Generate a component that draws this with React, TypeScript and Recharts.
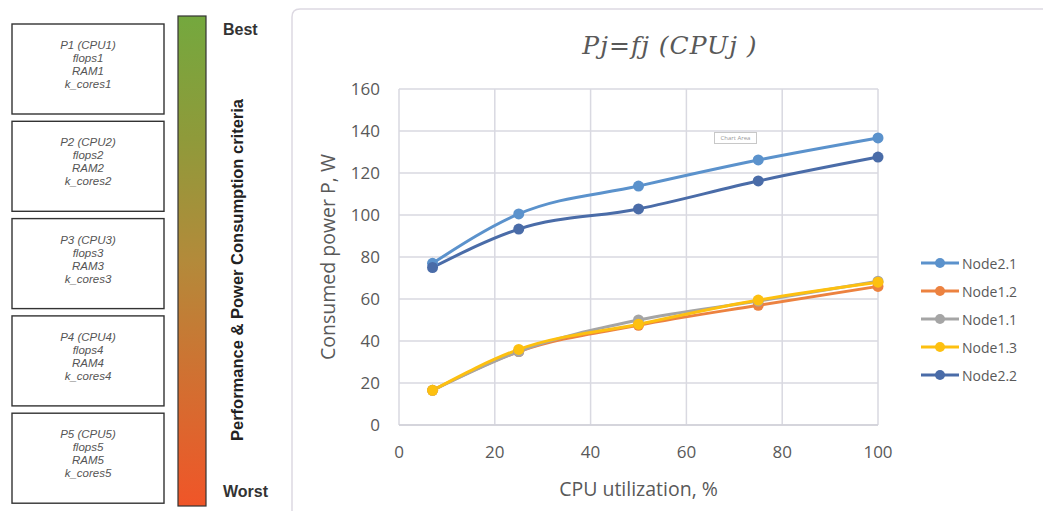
import {
  CartesianGrid,
  Line,
  LineChart,
  XAxis,
  YAxis,
} from "recharts";

// CPU utilization, % (x) and consumed power, W (y) per node
const cpuUtil = [7, 25, 50, 75, 100];
const node21 = [77, 100.5, 113.8, 126.2, 136.7];
const node12 = [16.5, 35, 47.5, 57, 66];
const node11 = [16.5, 35, 50, 59, 68.5];
const node13 = [16.5, 36, 48, 59.5, 68];
const node22 = [75, 93.3, 102.9, 116.2, 127.6];

const xTicks = [0, 20, 40, 60, 80, 100];
const yTicks = [0, 20, 40, 60, 80, 100, 120, 140, 160];

const seriesNames = ["Node2.1", "Node1.2", "Node1.1", "Node1.3", "Node2.2"];
const seriesValues = [node21, node12, node11, node13, node22];
const seriesColors = ["#5b92cc", "#ec8240", "#a5a5a5", "#fdc010", "#4a6ca8"];

const processors = [
  ["P1 (CPU1)", "flops1", "RAM1", "k_cores1"],
  ["P2 (CPU2)", "flops2", "RAM2", "k_cores2"],
  ["P3 (CPU3)", "flops3", "RAM3", "k_cores3"],
  ["P4 (CPU4)", "flops4", "RAM4", "k_cores4"],
  ["P5 (CPU5)", "flops5", "RAM5", "k_cores5"],
];

const chartData = cpuUtil.map((cpu, i) => {
  const row: Record<string, number> = { cpu };
  seriesNames.forEach((name, s) => {
    row[name] = seriesValues[s][i];
  });
  return row;
});

const textGray = "#595959";
const calibriLike = "'Open Sans', 'Noto Sans', sans-serif";

function LeftPanel() {
  return (
    <svg
      width={300}
      height={511}
      style={{ position: "absolute", left: 0, top: 0 }}
    >
      <defs>
        <linearGradient id="crit" x1="0" y1="0" x2="0" y2="1">
          <stop offset="0%" stopColor="#74a83e" />
          <stop offset="25%" stopColor="#8f9a3a" />
          <stop offset="50%" stopColor="#b38a3a" />
          <stop offset="75%" stopColor="#d26f31" />
          <stop offset="100%" stopColor="#f05528" />
        </linearGradient>
      </defs>
      {processors.map((lines, i) => {
        const top = 24 + i * 97.3;
        return (
          <g key={lines[0]}>
            <rect
              x={12}
              y={top}
              width={152}
              height={90}
              fill="#fff"
              stroke="#333"
              strokeWidth={1.4}
            />
            {lines.map((t, j) => (
              <text
                key={t}
                x={88}
                y={top + 25 + j * 13}
                textAnchor="middle"
                fontFamily="'Liberation Sans', Arial, sans-serif"
                fontStyle="italic"
                fontSize={11.5}
                fill="#555"
              >
                {t}
              </text>
            ))}
          </g>
        );
      })}
      <rect
        x={178}
        y={16}
        width={28}
        height={490}
        fill="url(#crit)"
        stroke="#333"
        strokeWidth={1.2}
      />
      <text
        x={223}
        y={35}
        fontFamily="'Liberation Sans', Arial, sans-serif"
        fontWeight="bold"
        fontSize={16}
        fill="#333"
      >
        Best
      </text>
      <text
        x={223}
        y={497}
        fontFamily="'Liberation Sans', Arial, sans-serif"
        fontWeight="bold"
        fontSize={16}
        fill="#333"
      >
        Worst
      </text>
      <text
        x={243}
        y={270}
        transform="rotate(-90, 243, 270)"
        textAnchor="middle"
        fontFamily="'Liberation Sans', Arial, sans-serif"
        fontWeight="bold"
        fontSize={16.5}
        fill="#222"
      >
        Performance &amp; Power Consumption criteria
      </text>
      <path
        d="M292,511 V17 Q292,9 300,9 H300"
        fill="none"
        stroke="#ddd9e2"
        strokeWidth={1.5}
      />
    </svg>
  );
}

function NodeLegend() {
  return (
    <div style={{ position: "absolute", left: 921, top: 249 }}>
      {seriesNames.map((name, s) => (
        <div
          key={name}
          style={{ display: "flex", alignItems: "center", height: 28 }}
        >
          <svg width={40} height={12}>
            <line
              x1={0}
              y1={6}
              x2={38}
              y2={6}
              stroke={seriesColors[s]}
              strokeWidth={3}
            />
            <circle cx={19} cy={6} r={5} fill={seriesColors[s]} />
          </svg>
          <span
            style={{
              fontFamily: calibriLike,
              fontSize: 14,
              color: textGray,
              marginLeft: 1,
            }}
          >
            {name}
          </span>
        </div>
      ))}
    </div>
  );
}

export default function App() {
  return (
    <div
      style={{
        position: "fixed",
        left: 0,
        top: 0,
        width: 1043,
        height: 511,
        background: "#fff",
        overflow: "hidden",
      }}
    >
      <svg
        width={1043}
        height={511}
        style={{ position: "absolute", left: 0, top: 0 }}
      >
        <line x1={300} y1={9} x2={1043} y2={9} stroke="#ddd9e2" strokeWidth={1.5} />
        <text
          x={670}
          y={54}
          textAnchor="middle"
          fontFamily="'DejaVu Serif', serif"
          fontStyle="italic"
          fontSize={25}
          letterSpacing={1}
          fill={textGray}
        >
          Pj=fj (CPUj )
        </text>
      </svg>
      <LeftPanel />
      <div style={{ position: "absolute", left: 0, top: 0 }}>
        <LineChart
          width={1043}
          height={511}
          data={chartData}
          margin={{ top: 89, right: 165, bottom: 16, left: 339 }}
        >
          <CartesianGrid stroke="#d9d9e1" strokeWidth={1.5} />
          <XAxis
            type="number"
            dataKey="cpu"
            domain={[0, 100]}
            ticks={xTicks}
            height={70}
            tickLine={false}
            tickSize={6}
            tickMargin={15}
            axisLine={{ stroke: "#d0d0d8", strokeWidth: 1.5 }}
            tick={{ fill: textGray, fontSize: 17, fontFamily: calibriLike }}
            label={{
              content: ({ viewBox }: any) => (
                <text
                  x={viewBox.x + viewBox.width / 2}
                  y={496}
                  textAnchor="middle"
                  fontFamily={calibriLike}
                  fontSize={19.5}
                  fill={textGray}
                >
                  CPU utilization, %
                </text>
              ),
            }}
          />
          <YAxis
            type="number"
            domain={[0, 160]}
            ticks={yTicks}
            width={60}
            tickLine={false}
            axisLine={false}
            tickSize={6}
            tickMargin={13}
            tick={{ fill: textGray, fontSize: 17, fontFamily: calibriLike }}
            label={{
              content: ({ viewBox }: any) => {
                const cy = viewBox.y + viewBox.height / 2;
                return (
                  <text
                    x={335}
                    y={cy}
                    transform={`rotate(-90, 335, ${cy})`}
                    textAnchor="middle"
                    fontFamily={calibriLike}
                    fontSize={19.5}
                    fill={textGray}
                  >
                    Consumed power P, W
                  </text>
                );
              },
            }}
          />
          {seriesNames.map((name, s) => (
            <Line
              key={name}
              type="monotone"
              dataKey={name}
              name={name}
              stroke={seriesColors[s]}
              strokeWidth={3}
              dot={{ r: 5.5, fill: seriesColors[s], stroke: seriesColors[s], strokeWidth: 0 }}
              activeDot={false}
              isAnimationActive={false}
            />
          ))}
        </LineChart>
      </div>
      <NodeLegend />
      <div
        style={{
          position: "absolute",
          left: 714,
          top: 132,
          width: 41,
          height: 10,
          border: "1px solid #c8c8c8",
          background: "#fff",
          fontFamily: calibriLike,
          fontSize: 6,
          lineHeight: "10px",
          color: "#999",
          textAlign: "center",
        }}
      >
        Chart Area
      </div>
    </div>
  );
}
